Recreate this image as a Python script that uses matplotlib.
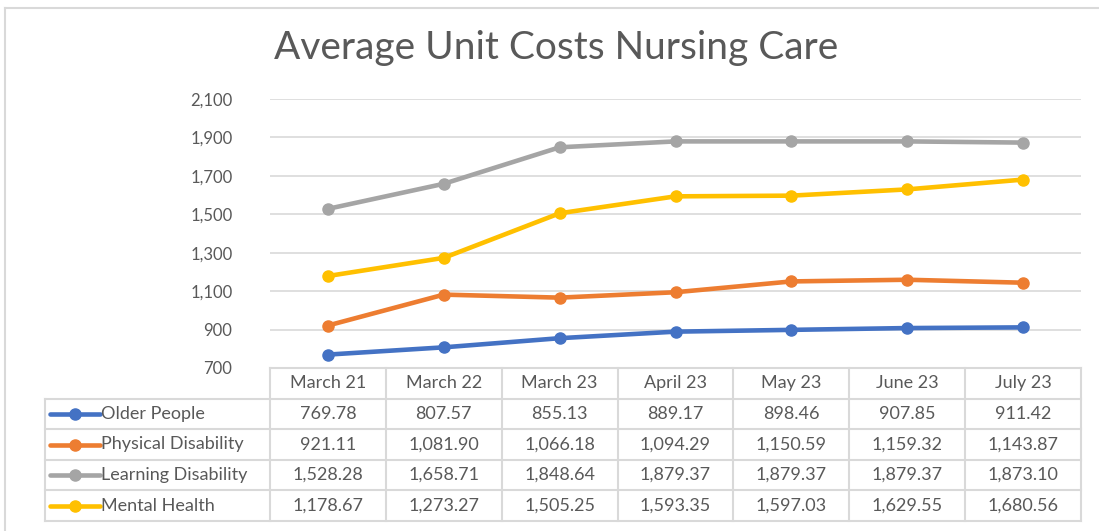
import matplotlib
matplotlib.use("Agg")
import matplotlib.pyplot as plt
from matplotlib.lines import Line2D

# ---- data ----
categories = ["March 21", "March 22", "March 23", "April 23", "May 23", "June 23", "July 23"]
series_names = ["Older People", "Physical Disability", "Learning Disability", "Mental Health"]
older_people = [769.78, 807.57, 855.13, 889.17, 898.46, 907.85, 911.42]
physical_disability = [921.11, 1081.90, 1066.18, 1094.29, 1150.59, 1159.32, 1143.87]
learning_disability = [1528.28, 1658.71, 1848.64, 1879.37, 1879.37, 1879.37, 1873.10]
mental_health = [1178.67, 1273.27, 1505.25, 1593.35, 1597.03, 1629.55, 1680.56]
y_ticks = [700, 900, 1100, 1300, 1500, 1700, 1900, 2100]
title = "Average Unit Costs Nursing Care"

series_values = [older_people, physical_disability, learning_disability, mental_health]
colors = ["#4472C4", "#ED7D31", "#A5A5A5", "#FFC000"]

plt.rcParams['font.family'] = ['Lato', 'DejaVu Sans']

W, H = 1099, 531
fig = plt.figure(figsize=(W / 100, H / 100), dpi=100)

def rect(l, t, r, b):
    return [l / W, 1 - b / H, (r - l) / W, (b - t) / H]

txt_col = "#595959"
grid_col = "#d9d9d9"

# outer chart frame (top and left visible)
fig.add_artist(Line2D([5 / W, 1], [1 - 8 / H, 1 - 8 / H], color=grid_col, lw=1.5))
fig.add_artist(Line2D([5 / W, 5 / W], [0, 1 - 8 / H], color=grid_col, lw=1.5))

# title
fig.text(556 / W, 1 - 48 / H, title, ha="center", va="center", fontsize=28, color=txt_col)

# main plot axes
left_px, right_px, top_px, bot_px = 270, 1081, 99, 368
ax = fig.add_axes(rect(left_px, top_px, right_px, bot_px))
x = list(range(len(categories)))
for vals, c in zip(series_values, colors):
    ax.plot(x, vals, color=c, lw=3.3, marker="o", markersize=8, solid_capstyle="round", zorder=3)
ax.set_xlim(-0.5, len(categories) - 0.5)
ax.set_ylim(y_ticks[0], y_ticks[-1])
ax.set_yticks(y_ticks)
ax.set_yticklabels([f"{v:,}" for v in y_ticks], fontsize=12, color=txt_col)
ax.tick_params(axis="y", length=0, pad=27)
ax.set_xticks([])
ax.grid(axis="y", color=grid_col, lw=1.2)
for s in ax.spines.values():
    s.set_visible(False)
ax.set_axisbelow(True)

# data table axes (same x scale, extended left for legend column)
col_w = (right_px - left_px) / len(categories)
tab_left_px = 45
legend_cols = (left_px - tab_left_px) / col_w
tab_top, tab_bot = 368, 521
nrows = len(series_names) + 1
tax = fig.add_axes(rect(tab_left_px, tab_top, right_px, tab_bot))
tax.set_xlim(-0.5 - legend_cols, len(categories) - 0.5)
tax.set_ylim(nrows, 0)
tax.axis("off")

lc = grid_col
lw = 1.5
xl = -0.5 - legend_cols
xr = len(categories) - 0.5
# horizontal lines
tax.plot([-0.5, xr], [0, 0], color=lc, lw=lw, clip_on=False)
for r in range(1, nrows + 1):
    tax.plot([xl, xr], [r, r], color=lc, lw=lw, clip_on=False)
# vertical lines
tax.plot([xl, xl], [1, nrows], color=lc, lw=lw, clip_on=False)
for i in range(len(categories) + 1):
    tax.plot([i - 0.5, i - 0.5], [0, nrows], color=lc, lw=lw, clip_on=False)

fs = 13
for i, cat in enumerate(categories):
    tax.text(i, 0.5, cat, ha="center", va="center", fontsize=fs, color=txt_col)
for r, (name, vals, c) in enumerate(zip(series_names, series_values, colors), start=1):
    for i, v in enumerate(vals):
        tax.text(i, r + 0.5, f"{v:,.2f}", ha="center", va="center", fontsize=fs, color=txt_col)
    # legend key
    k0 = xl + 5 / col_w
    k1 = xl + 55 / col_w
    tax.plot([k0, k1], [r + 0.5, r + 0.5], color=c, lw=3.3, clip_on=False, solid_capstyle="round")
    tax.plot([(k0 + k1) / 2], [r + 0.5], color=c, marker="o", markersize=8, clip_on=False)
    tax.text(k1 + 1 / col_w, r + 0.5, name, ha="left", va="center", fontsize=fs, color=txt_col)

fig.savefig("out.png", dpi=100)
